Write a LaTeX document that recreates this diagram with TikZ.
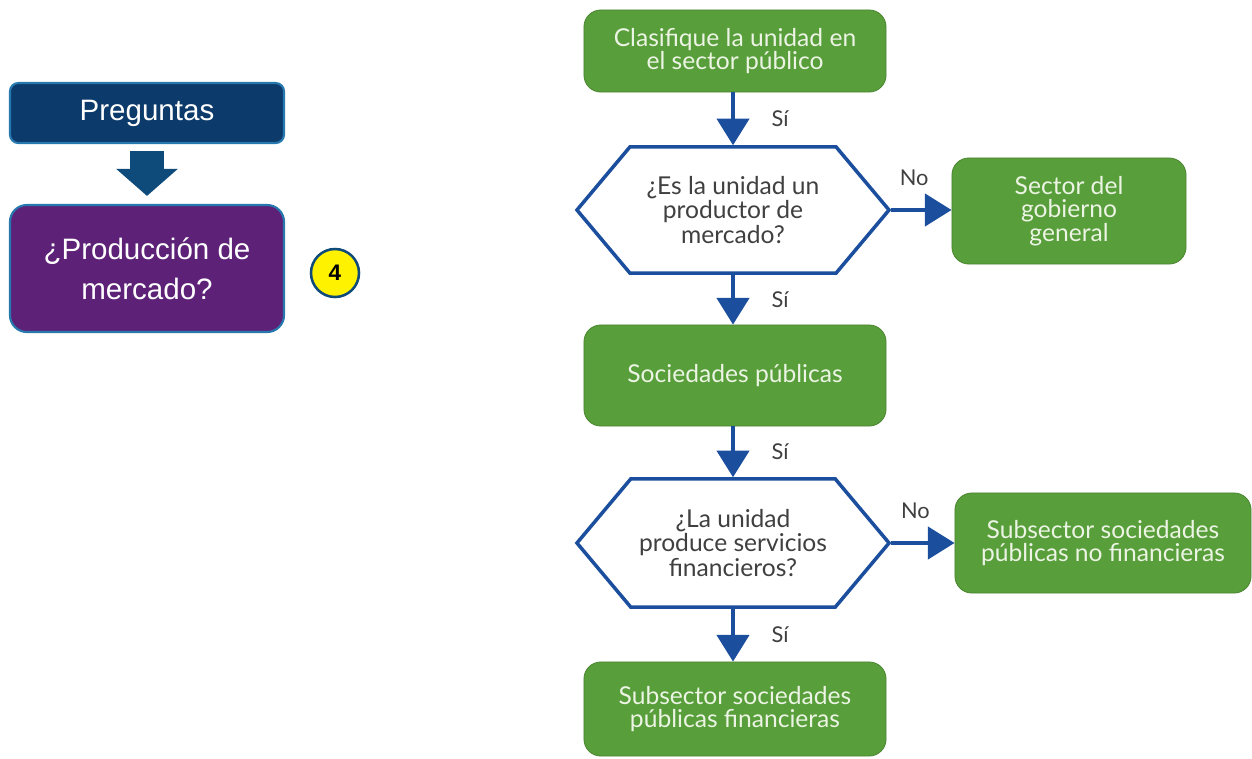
\documentclass[tikz,border=0pt]{standalone}
\usepackage{fontspec}
\setmainfont{Lato}
\newfontfamily\arialfont{Liberation Sans}
\usetikzlibrary{arrows.meta,shapes.symbols}
\definecolor{boxgreen}{RGB}{88,158,58}
\definecolor{txtgreen}{RGB}{236,244,228}
\definecolor{flowblue}{RGB}{28,78,158}
\definecolor{pregblue}{RGB}{12,58,106}
\definecolor{edgeblue}{RGB}{40,120,176}
\definecolor{prodpurple}{RGB}{93,34,120}
\definecolor{bigarrow}{RGB}{14,74,122}
\tikzset{
    greenbox/.style={draw=boxgreen!85!black, line width=0.6pt, fill=boxgreen, rounded corners=12pt,
        text=txtgreen, align=center, font=\fontsize{17.5}{16.8}\selectfont},
    hexbox/.style={signal, signal to=east and west, signal pointer angle=100, draw=flowblue,
        line width=2.5pt, fill=white, align=center, inner sep=0pt, text=black!75,
        font=\fontsize{17.5}{17.2}\selectfont},
    flow/.style={draw=flowblue, line width=2.6pt, -{Triangle[length=19pt,width=23pt]}},
    answer/.style={font=\fontsize{15.5}{17}\selectfont, text=black!75}
}
\begin{document}
\begin{tikzpicture}[x=0.025cm, y=-0.025cm]
    \useasboundingbox (0,0) rectangle (1252,758);
    % left part
    \node[draw=edgeblue, line width=1.5pt, fill=pregblue, rounded corners=6pt, text=white,
        minimum width=6.85cm, minimum height=1.5cm, font=\arialfont\fontsize{21}{25}\selectfont]
        (preg) at (147,113) {Preguntas};
    \node[draw=edgeblue, line width=1.5pt, fill=prodpurple, rounded corners=12pt, text=white,
        minimum width=6.85cm, minimum height=3.175cm, align=center,
        font=\arialfont\fontsize{21}{28.5}\selectfont]
        (prod) at (147,268.5) {¿Producción de\\mercado?};
    \draw[bigarrow, line width=0.825cm, -{Triangle[length=0.675cm,width=1.5cm]},
        shorten <=0.175cm, shorten >=0.2cm] (preg) -- (prod);
    \node[circle, draw=bigarrow, line width=1.8pt, fill=yellow, minimum size=1.2cm, inner sep=0pt,
        font=\arialfont\bfseries\fontsize{16}{18}\selectfont] (paso) at (335,273) {4};
    % flow chart
    \node[greenbox, minimum width=7.55cm, minimum height=2.05cm] (clas) at (735,51)
        {Clasifique la unidad en\\el sector público};
    \node[hexbox, minimum width=7.8cm, minimum height=3.15cm] (prodq) at (733,210)
        {¿Es la unidad un\\productor de\\mercado?};
    \node[greenbox, minimum width=5.85cm, minimum height=2.65cm] (gob) at (1069,211)
        {Sector del\\gobierno\\general};
    \node[greenbox, minimum width=7.55cm, minimum height=2.525cm] (soc) at (735,375.5)
        {Sociedades públicas};
    \node[hexbox, minimum width=7.8cm, minimum height=3.2cm] (finq) at (733,543)
        {¿La unidad\\produce servicios\\financieros?};
    \node[greenbox, minimum width=7.4cm, minimum height=2.5cm] (nofin) at (1103,543)
        {Subsector sociedades\\públicas no financieras};
    \node[greenbox, minimum width=7.55cm, minimum height=2.35cm] (fin) at (735,709)
        {Subsector sociedades\\públicas financieras};

    \draw[flow] (clas.south -| prodq.north) -- (prodq.north) node[answer, midway, right=0.8cm] {Sí};
    \draw[flow] (prodq.south) -- (soc.north -| prodq.south) node[answer, midway, right=0.8cm] {Sí};
    \draw[flow] (soc.south -| finq.north) -- (finq.north) node[answer, midway, right=0.8cm] {Sí};
    \draw[flow] (finq.south) -- (fin.north -| finq.south) node[answer, midway, right=0.8cm] {Sí};
    \draw[flow] (prodq.east) -- (gob.west |- prodq.east) node[answer, pos=0.38, above=0.45cm] {No};
    \draw[flow] (finq.east) -- (nofin.west |- finq.east) node[answer, pos=0.38, above=0.45cm] {No};
\end{tikzpicture}
\end{document}
